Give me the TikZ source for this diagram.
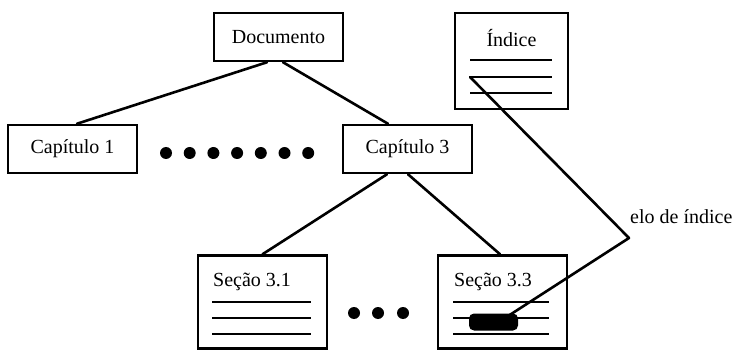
\documentclass[tikz,border=0pt]{standalone}
\usepackage{fontspec}
\setmainfont{Liberation Serif}
\begin{document}
\begin{tikzpicture}[x=1pt,y=-1pt,
  every node/.style={font=\fontsize{20}{24}\selectfont, inner sep=0pt},
  box/.style={draw, line width=2.5pt, rectangle},
  link/.style={line width=2.6pt, line cap=round, line join=round},
  textline/.style={line width=2.3pt},
  bigdot/.style={circle, fill, minimum size=12pt, inner sep=0pt}]
\useasboundingbox (0,0) rectangle (734,350);

% document tree
\node[box, minimum width=129pt, minimum height=48pt] (doc) at (278.5,37) {Documento};
\node[box, minimum width=129pt, minimum height=48pt] (cap1) at (72.5,149) {Capítulo 1};
\node[box, minimum width=129pt, minimum height=48pt] (cap3) at (407.5,149) {Capítulo 3};

% dots between chapters
\foreach \i in {0,...,6}
  \node[bigdot] (cd\i) at ({166+23.7*\i},153) {};

% index box
\node[box, minimum width=113pt, minimum height=96pt] (idx) at (511.5,61) {};
\node (idxtitle) at (511.5,38) {Índice};
\coordinate (il1a) at (470,60); \coordinate (il1b) at (552,60);
\coordinate (il2a) at (470,77); \coordinate (il2b) at (552,77);
\coordinate (il3a) at (470,93); \coordinate (il3b) at (552,93);
\draw[textline] (il1a) -- (il1b);
\draw[textline] (il2a) -- (il2b);
\draw[textline] (il3a) -- (il3b);

% sections
\node[box, minimum width=129pt, minimum height=93pt] (s31) at (262.5,302) {};
\node[anchor=west] (s31title) at (213,282) {Seção 3.1};
\foreach \y in {302,318,334}
  \draw[textline] (212,\y) -- (311,\y);

\node[box, minimum width=129pt, minimum height=93pt] (s33) at (502.5,302) {};
\node[anchor=west] (s33title) at (454,282) {Seção 3.3};
\foreach \y in {302,318,334}
  \draw[textline] (453,\y) -- (549,\y);
\node[fill, rounded corners=5pt, minimum width=49pt, minimum height=17pt] (mark) at (493.5,322) {};
\coordinate (target) at (505,318);

% dots between sections
\foreach \i/\x in {0/354,1/378,2/403}
  \node[bigdot] (sd\i) at (\x,313) {};

% tree connectors
\draw[link] ([xshift=-11.5pt]doc.south) -- ([xshift=4.5pt]cap1.north);
\draw[link] ([xshift=4.5pt]doc.south) -- ([xshift=-19.5pt]cap3.north);
\draw[link] ([xshift=-20.5pt]cap3.south) -- ([xshift=0pt]s31.north);
\draw[link] ([xshift=0.5pt]cap3.south) -- ([xshift=-2.5pt]s33.north);

% index link
\coordinate (elbow) at (629,238);
\draw[link] (il2a) -- (elbow) -- (target);
\node[anchor=west] (elolabel) at (630,217) {elo de índice};
\end{tikzpicture}
\end{document}
